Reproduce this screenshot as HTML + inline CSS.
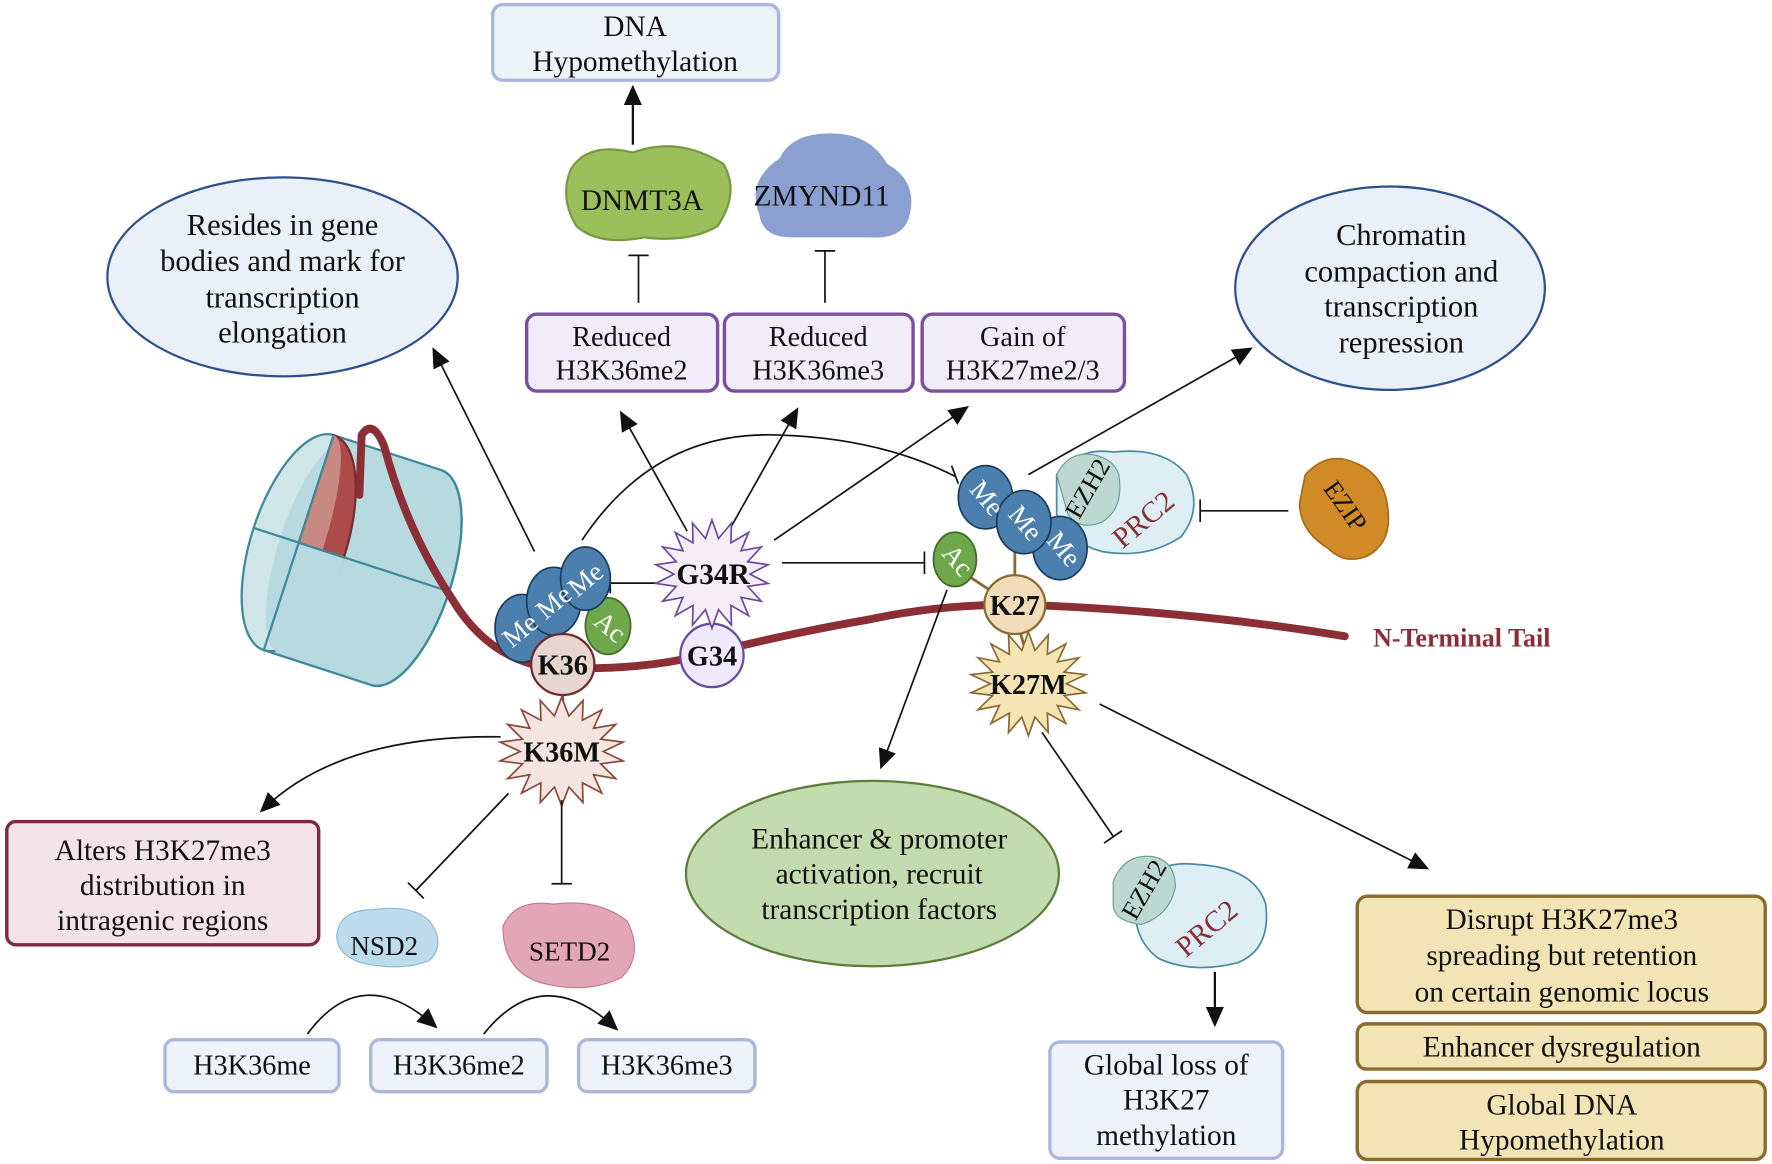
<!DOCTYPE html>
<html><head><meta charset="utf-8"><style>
html,body{margin:0;padding:0;background:#fff}
svg{display:block}
text{font-family:"Liberation Serif",serif;fill:#111}
</style></head><body>
<svg id="s" width="1772" height="1164" viewBox="0 0 1568 1030" preserveAspectRatio="none" xmlns="http://www.w3.org/2000/svg">
<defs>
<marker id="ar" markerWidth="18" markerHeight="16" refX="15" refY="8" orient="auto" markerUnits="userSpaceOnUse" viewBox="0 0 18 16"><path d="M0,0 L18,8 L0,16 z" fill="#111"/></marker>
</defs>
<rect width="1568" height="1030" fill="#fff"/>

<rect x="436" y="4" width="253" height="67" rx="9" fill="#eef3fa" stroke="#a9b8dd" stroke-width="3"/>
<text x="562" y="32" font-size="26" text-anchor="middle">DNA</text>
<text x="562" y="63" font-size="26" text-anchor="middle">Hypomethylation</text>
<line x1="560" y1="128" x2="560" y2="78" stroke="#111" stroke-width="2" marker-end="url(#ar)"/>

<path d="M505,150 Q520,125 560,135 Q600,120 640,145 Q655,170 635,200 Q610,215 570,210 Q530,218 510,200 Q495,175 505,150z" fill="#9bbf5a" stroke="#7a9a42" stroke-width="2"/>
<text x="568" y="186" font-size="26" text-anchor="middle">DNMT3A</text>
<path d="M672,190 Q660,160 690,140 Q700,118 735,118 Q770,118 785,145 Q812,160 805,190 Q800,212 770,210 L700,210 Q675,210 672,190z" fill="#8b9fd0"/>
<text x="727" y="182" font-size="26" text-anchor="middle">ZMYND11</text>
<line x1="565" y1="268" x2="565" y2="226" stroke="#111" stroke-width="1.5"/><line x1="556" y1="226" x2="574" y2="226" stroke="#111" stroke-width="1.5"/>
<line x1="730" y1="268" x2="730" y2="222" stroke="#111" stroke-width="1.5"/><line x1="721" y1="222" x2="739" y2="222" stroke="#111" stroke-width="1.5"/>

<rect x="466" y="278" width="169" height="68" rx="9" fill="#f1ecfa" stroke="#7a4fa0" stroke-width="3"/>
<text x="550" y="306" font-size="25" text-anchor="middle">Reduced</text><text x="550" y="336" font-size="25" text-anchor="middle">H3K36me2</text>
<rect x="641" y="278" width="167" height="68" rx="9" fill="#f1ecfa" stroke="#7a4fa0" stroke-width="3"/>
<text x="724" y="306" font-size="25" text-anchor="middle">Reduced</text><text x="724" y="336" font-size="25" text-anchor="middle">H3K36me3</text>
<rect x="816" y="278" width="179" height="68" rx="9" fill="#f1ecfa" stroke="#7a4fa0" stroke-width="3"/>
<text x="905" y="306" font-size="25" text-anchor="middle">Gain of</text><text x="905" y="336" font-size="25" text-anchor="middle">H3K27me2/3</text>

<ellipse cx="250" cy="245" rx="155" ry="88" fill="#eaf0f8" stroke="#2f4f8f" stroke-width="2"/>
<text x="250" y="208" font-size="27" text-anchor="middle">Resides in gene</text>
<text x="250" y="240" font-size="27" text-anchor="middle">bodies and mark for</text>
<text x="250" y="272" font-size="27" text-anchor="middle">transcription</text>
<text x="250" y="303" font-size="27" text-anchor="middle">elongation</text>
<ellipse cx="1230" cy="255" rx="137" ry="90" fill="#eaf0f8" stroke="#2f4f8f" stroke-width="2"/>
<text x="1240" y="217" font-size="27" text-anchor="middle">Chromatin</text>
<text x="1240" y="249" font-size="27" text-anchor="middle">compaction and</text>
<text x="1240" y="280" font-size="27" text-anchor="middle">transcription</text>
<text x="1240" y="312" font-size="27" text-anchor="middle">repression</text>

<!-- nucleosome -->
<g transform="rotate(18 310 495)" stroke="#3f8a98" stroke-width="2">
<path d="M262,395 L362,395 A40,100 0 0 1 362,595 L262,595z" fill="#b7d9e0"/>
<path d="M362,395 A40,100 0 0 1 362,595" fill="none"/>
<ellipse cx="262" cy="495" rx="42" ry="100" fill="#cfe5ea"/>
<ellipse cx="275" cy="495" rx="30" ry="98" fill="#b7d9e0" stroke="none"/>
<path d="M262,395 A42,100 0 0 1 304,495 L262,495z" fill="#ad4b4b" stroke="#7a2b2b"/>
<path d="M262,395 A22,100 0 0 1 284,495 L262,495z" fill="#c88a80" stroke="none"/>
<line x1="220" y1="495" x2="304" y2="495"/>
<line x1="262" y1="395" x2="262" y2="595"/>
<line x1="304" y1="495" x2="395" y2="495"/>
</g>
<path d="M318,438 L320,385 Q330,370 340,395 Q360,470 400,530 Q430,580 480,590 Q560,595 620,580 Q700,560 770,548 Q830,535 900,535 Q1050,540 1190,563" fill="none" stroke="#8b2e35" stroke-width="7" stroke-linecap="round"/>
<text x="1215" y="572" font-size="23" font-weight="bold" style="fill:#8b2e35">N-Terminal Tail</text>

<line x1="473" y1="488" x2="384" y2="310" stroke="#111" stroke-width="1.5" marker-end="url(#ar)"/>
<path d="M515,478 Q580,380 690,385 Q780,388 846,422" fill="none" stroke="#111" stroke-width="1.5"/>
<line x1="842" y1="412" x2="848" y2="428" stroke="#111" stroke-width="1.5"/>
<line x1="608" y1="470" x2="550" y2="366" stroke="#111" stroke-width="1.5" marker-end="url(#ar)"/>
<line x1="647" y1="466" x2="705" y2="363" stroke="#111" stroke-width="1.5" marker-end="url(#ar)"/>
<line x1="685" y1="478" x2="855" y2="361" stroke="#111" stroke-width="1.5" marker-end="url(#ar)"/>
<line x1="692" y1="498" x2="818" y2="498" stroke="#111" stroke-width="1.5"/><line x1="818" y1="488" x2="818" y2="508" stroke="#111" stroke-width="1.5"/>
<line x1="585" y1="516" x2="540" y2="516" stroke="#111" stroke-width="1.5"/><line x1="540" y1="507" x2="540" y2="525" stroke="#111" stroke-width="1.5"/>
<line x1="910" y1="420" x2="1106" y2="309" stroke="#111" stroke-width="1.5" marker-end="url(#ar)"/>
<line x1="1140" y1="452" x2="1062" y2="452" stroke="#111" stroke-width="1.5"/><line x1="1062" y1="442" x2="1062" y2="462" stroke="#111" stroke-width="1.5"/>
<line x1="838" y1="522" x2="780" y2="678" stroke="#111" stroke-width="1.5" marker-end="url(#ar)"/>

<line x1="498" y1="600" x2="498" y2="640" stroke="#6a4a9a" stroke-width="2.5"/>
<line x1="498" y1="560" x2="498" y2="535" stroke="#8a6a2e" stroke-width="2"/>
<g stroke="#1d3b5c" stroke-width="1.5">
<ellipse cx="462" cy="556" rx="24" ry="30" fill="#4a7fae"/>
<ellipse cx="538" cy="554" rx="20" ry="25" fill="#6ea84a" stroke="#3c6a2a"/>
<ellipse cx="490" cy="532" rx="24" ry="30" fill="#4a7fae"/>
<ellipse cx="518" cy="512" rx="22" ry="28" fill="#4a7fae"/>
</g>
<text x="462" y="565" font-size="24" style="fill:#fff" text-anchor="middle" transform="rotate(-40 462 560)">Me</text>
<text x="492" y="540" font-size="24" style="fill:#fff" text-anchor="middle" transform="rotate(-40 492 535)">Me</text>
<text x="520" y="520" font-size="24" style="fill:#fff" text-anchor="middle" transform="rotate(-40 520 515)">Me</text>
<text x="538" y="562" font-size="24" style="fill:#fff" text-anchor="middle" transform="rotate(40 538 557)">Ac</text>
<ellipse cx="498" cy="588" rx="28" ry="27" fill="#e8d5d0" stroke="#6a2e2e" stroke-width="2"/>
<text x="498" y="597" font-size="25" font-weight="bold" text-anchor="middle">K36</text>

<line x1="630" y1="525" x2="630" y2="560" stroke="#6a4a9a" stroke-width="2.5"/>
<ellipse cx="630" cy="580" rx="28" ry="28" fill="#eeeafc" stroke="#6a4a9a" stroke-width="2"/>
<text x="630" y="589" font-size="25" font-weight="bold" text-anchor="middle">G34</text>
<polygon id="g34r" fill="#f4eef4" stroke="#6a4a9a" stroke-width="1.5"/>
<text x="631" y="517" font-size="26" font-weight="bold" text-anchor="middle">G34R</text>

<line x1="898" y1="520" x2="898" y2="480" stroke="#8a6a2e" stroke-width="2.5"/>
<line x1="880" y1="525" x2="850" y2="505" stroke="#8a6a2e" stroke-width="2.5"/>
<line x1="900" y1="550" x2="910" y2="585" stroke="#8a6a2e" stroke-width="2.5"/>
<path d="M935,420 Q955,395 985,400 Q1030,395 1050,420 Q1065,450 1045,475 Q1015,495 975,488 Q945,480 935,455z" fill="#ddeef4" stroke="#4a8aa0" stroke-width="1.5"/>
<path d="M935,420 Q945,400 965,402 Q985,405 990,420 Q995,450 975,462 Q955,470 945,455z" fill="#bcd8d0" stroke="#6a9a90" stroke-width="1"/>
<text x="962" y="440" font-size="23" text-anchor="middle" transform="rotate(-60 962 432)">EZH2</text>
<text x="1012" y="468" font-size="26" style="fill:#8b2e35" text-anchor="middle" transform="rotate(-40 1012 460)">PRC2</text>
<g stroke="#1d3b5c" stroke-width="1.5">
<ellipse cx="938" cy="485" rx="24" ry="28" fill="#4a7fae"/>
<ellipse cx="872" cy="440" rx="24" ry="28" fill="#4a7fae"/>
<ellipse cx="906" cy="462" rx="24" ry="28" fill="#4a7fae"/>
<ellipse cx="845" cy="495" rx="19" ry="24" fill="#6ea84a" stroke="#3c6a2a"/>
</g>
<text x="872" y="448" font-size="24" style="fill:#fff" text-anchor="middle" transform="rotate(50 872 442)">Me</text>
<text x="906" y="470" font-size="24" style="fill:#fff" text-anchor="middle" transform="rotate(50 906 464)">Me</text>
<text x="940" y="493" font-size="24" style="fill:#fff" text-anchor="middle" transform="rotate(50 940 487)">Me</text>
<text x="846" y="503" font-size="24" style="fill:#fff" text-anchor="middle" transform="rotate(50 846 497)">Ac</text>
<ellipse cx="898" cy="535" rx="27" ry="26" fill="#f0dcb8" stroke="#8a6a2e" stroke-width="2"/>
<text x="898" y="544" font-size="25" font-weight="bold" text-anchor="middle">K27</text>
<polygon id="k27m" fill="#f5e5b5" stroke="#8a6a2e" stroke-width="1.5"/>
<text x="910" y="614" font-size="25" font-weight="bold" text-anchor="middle">K27M</text>

<path d="M1155,420 Q1175,398 1200,410 Q1225,420 1228,450 Q1232,480 1210,492 Q1190,500 1175,485 Q1150,470 1150,445z" fill="#d08a28" stroke="#a86a18" stroke-width="1.5"/>
<text x="1190" y="455" font-size="23" text-anchor="middle" transform="rotate(55 1190 448)">EZIP</text>

<polygon id="k36m" fill="#f5e5e0" stroke="#8a4a3a" stroke-width="1.5"/>
<text x="497" y="674" font-size="25" font-weight="bold" text-anchor="middle">K36M</text>
<path d="M443,652 Q300,650 232,717" fill="none" stroke="#111" stroke-width="1.5" marker-end="url(#ar)"/>
<line x1="450" y1="702" x2="368" y2="788" stroke="#111" stroke-width="1.5"/><line x1="361" y1="781" x2="375" y2="795" stroke="#111" stroke-width="1.5"/>
<line x1="497" y1="708" x2="497" y2="782" stroke="#111" stroke-width="1.5"/><line x1="488" y1="782" x2="506" y2="782" stroke="#111" stroke-width="1.5"/>

<line x1="922" y1="648" x2="985" y2="740" stroke="#111" stroke-width="1.5"/><line x1="977" y1="746" x2="993" y2="735" stroke="#111" stroke-width="1.5"/>
<line x1="973" y1="623" x2="1262" y2="768" stroke="#111" stroke-width="1.5" marker-end="url(#ar)"/>

<rect x="6" y="727" width="276" height="109" rx="8" fill="#f5e3ea" stroke="#7c2a3e" stroke-width="3"/>
<text x="144" y="761" font-size="26" text-anchor="middle">Alters H3K27me3</text>
<text x="144" y="792" font-size="26" text-anchor="middle">distribution in</text>
<text x="144" y="823" font-size="26" text-anchor="middle">intragenic regions</text>

<path d="M298,828 Q300,805 330,805 Q365,800 380,815 Q395,835 380,850 Q355,860 320,852 Q298,845 298,828z" fill="#bcdcec" stroke="#8ab8d0" stroke-width="1"/>
<text x="340" y="845" font-size="24" text-anchor="middle">NSD2</text>
<path d="M445,820 Q455,795 490,800 Q530,795 555,815 Q570,845 550,865 Q520,880 480,870 Q445,860 445,820z" fill="#e3a6b6" stroke="#c07a8e" stroke-width="1"/>
<text x="504" y="850" font-size="24" text-anchor="middle">SETD2</text>

<path d="M272,915 Q320,850 385,908" fill="none" stroke="#111" stroke-width="1.5" marker-end="url(#ar)"/>
<path d="M428,915 Q480,850 545,910" fill="none" stroke="#111" stroke-width="1.5" marker-end="url(#ar)"/>
<rect x="146" y="920" width="154" height="46" rx="8" fill="#eef3fa" stroke="#a9b8dd" stroke-width="3"/>
<text x="223" y="951" font-size="25" text-anchor="middle">H3K36me</text>
<rect x="328" y="920" width="156" height="46" rx="8" fill="#eef3fa" stroke="#a9b8dd" stroke-width="3"/>
<text x="406" y="951" font-size="25" text-anchor="middle">H3K36me2</text>
<rect x="512" y="920" width="156" height="46" rx="8" fill="#eef3fa" stroke="#a9b8dd" stroke-width="3"/>
<text x="590" y="951" font-size="25" text-anchor="middle">H3K36me3</text>

<ellipse cx="772" cy="773" rx="165" ry="82" fill="#c2dcaf" stroke="#5d7e3b" stroke-width="2"/>
<text x="778" y="751" font-size="26" text-anchor="middle">Enhancer &amp; promoter</text>
<text x="778" y="782" font-size="26" text-anchor="middle">activation, recruit</text>
<text x="778" y="813" font-size="26" text-anchor="middle">transcription factors</text>

<path d="M1005,790 Q1020,760 1060,765 Q1110,768 1120,800 Q1125,840 1095,852 Q1055,862 1025,848 Q1000,830 1005,790z" fill="#ddeef4" stroke="#4a8aa0" stroke-width="1.5"/>
<path d="M985,780 Q995,755 1020,758 Q1040,762 1040,785 Q1035,810 1010,818 Q985,815 985,800z" fill="#bcd8d0" stroke="#6a9a90" stroke-width="1"/>
<text x="1012" y="795" font-size="23" text-anchor="middle" transform="rotate(-60 1012 787)">EZH2</text>
<text x="1068" y="830" font-size="26" style="fill:#8b2e35" text-anchor="middle" transform="rotate(-40 1068 822)">PRC2</text>
<line x1="1075" y1="860" x2="1075" y2="906" stroke="#111" stroke-width="2" marker-end="url(#ar)"/>
<rect x="929" y="922" width="206" height="103" rx="9" fill="#eef3fa" stroke="#a9b8dd" stroke-width="3"/>
<text x="1032" y="951" font-size="26" text-anchor="middle">Global loss of</text>
<text x="1032" y="982" font-size="26" text-anchor="middle">H3K27</text>
<text x="1032" y="1013" font-size="26" text-anchor="middle">methylation</text>

<rect x="1201" y="793" width="361" height="103" rx="9" fill="#f2e4b5" stroke="#8a6a2e" stroke-width="3"/>
<text x="1382" y="822" font-size="26" text-anchor="middle">Disrupt H3K27me3</text>
<text x="1382" y="854" font-size="26" text-anchor="middle">spreading but retention</text>
<text x="1382" y="886" font-size="26" text-anchor="middle">on certain genomic locus</text>
<rect x="1201" y="906" width="361" height="40" rx="8" fill="#f2e4b5" stroke="#8a6a2e" stroke-width="3"/>
<text x="1382" y="935" font-size="26" text-anchor="middle">Enhancer dysregulation</text>
<rect x="1201" y="957" width="361" height="69" rx="9" fill="#f2e4b5" stroke="#8a6a2e" stroke-width="3"/>
<text x="1382" y="986" font-size="26" text-anchor="middle">Global DNA</text>
<text x="1382" y="1017" font-size="26" text-anchor="middle">Hypomethylation</text>
</svg>
<script>
function star(id,cx,cy,ro,ri,n,sx){var p=[];for(var i=0;i<2*n;i++){var r=i%2?ri:ro;var a=Math.PI*i/n-Math.PI/2;p.push((cx+r*Math.cos(a)*sx).toFixed(1)+','+(cy+r*Math.sin(a)).toFixed(1));}document.getElementById(id).setAttribute('points',p.join(' '));}
star('g34r',630,508,48,32,18,1.05);
star('k36m',497,665,48,32,18,1.15);
star('k27m',910,605,46,30,18,1.12);
</script>
</body></html>
